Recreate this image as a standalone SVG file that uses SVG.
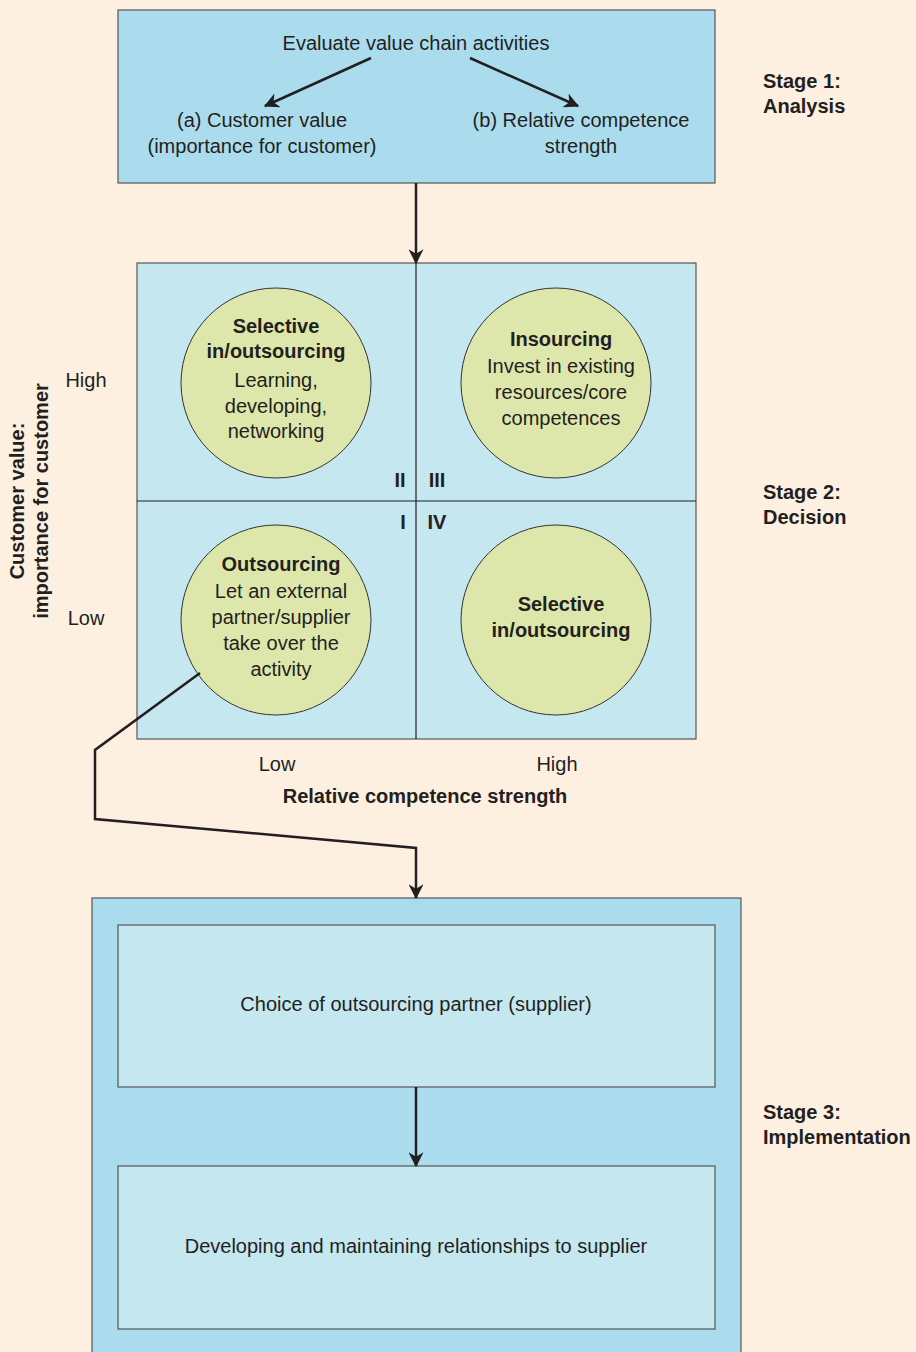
<svg xmlns="http://www.w3.org/2000/svg" width="916" height="1352" viewBox="0 0 916 1352">
  <defs>
    <marker id="arrow" viewBox="0 0 12 12" refX="11" refY="6" markerWidth="6" markerHeight="6" markerUnits="strokeWidth" orient="auto">
      <path d="M0,0 L12,6 L0,12 L3.5,6 Z" fill="#231f20"/>
    </marker>
    <style>
      text { font-family: "Liberation Sans", Arial, sans-serif; font-size: 20px; fill: #231f20; }
      .c { text-anchor: middle; }
      .b { font-weight: bold; }
      .box { fill: #abdcee; stroke: #555; stroke-width: 1.2; }
      .quad { fill: #c5e7f0; stroke: #555; stroke-width: 1.2; }
      .circ { fill: #dde7ab; stroke: #333; stroke-width: 1; }
      .conn { fill: none; stroke: #231f20; stroke-width: 2.5; }
      .grid { stroke: #231f20; stroke-width: 1.2; }
    </style>
  </defs>

  <rect width="916" height="1352" fill="#fdf0e1"/>

  <!-- Stage 1: analysis -->
  <g id="stage1">
    <rect class="box" x="118" y="10" width="597" height="173"/>
    <text class="c" x="416" y="50">Evaluate value chain activities</text>
    <text class="c" x="262" y="127">(a) Customer value</text>
    <text class="c" x="262" y="153">(importance for customer)</text>
    <text class="c" x="581" y="127">(b) Relative competence</text>
    <text class="c" x="581" y="153">strength</text>
  </g>
  <g id="stage1-label">
    <text class="b" x="763" y="88">Stage 1:</text>
    <text class="b" x="763" y="113">Analysis</text>
  </g>

  <!-- Stage 2: decision matrix -->
  <g id="matrix">
    <rect class="quad" x="137" y="263" width="559" height="476"/>
    <line class="grid" x1="416" y1="263" x2="416" y2="739"/>
    <line class="grid" x1="137" y1="501" x2="696" y2="501"/>
    <text class="b c" x="400" y="487">II</text>
    <text class="b c" x="437" y="487">III</text>
    <text class="b c" x="403" y="529">I</text>
    <text class="b c" x="437" y="529">IV</text>
  </g>

  <g id="q2-selective">
    <circle class="circ" cx="276" cy="383" r="95"/>
    <text class="b c" x="276" y="333">Selective</text>
    <text class="b c" x="276" y="358">in/outsourcing</text>
    <text class="c" x="276" y="387">Learning,</text>
    <text class="c" x="276" y="413">developing,</text>
    <text class="c" x="276" y="438">networking</text>
  </g>

  <g id="q3-insourcing">
    <circle class="circ" cx="556" cy="383" r="95"/>
    <text class="b c" x="561" y="346">Insourcing</text>
    <text class="c" x="561" y="373">Invest in existing</text>
    <text class="c" x="561" y="399">resources/core</text>
    <text class="c" x="561" y="425">competences</text>
  </g>

  <g id="q1-outsourcing">
    <circle class="circ" cx="276" cy="620" r="95"/>
    <text class="b c" x="281" y="571">Outsourcing</text>
    <text class="c" x="281" y="598">Let an external</text>
    <text class="c" x="281" y="624">partner/supplier</text>
    <text class="c" x="281" y="650">take over the</text>
    <text class="c" x="281" y="676">activity</text>
  </g>

  <g id="q4-selective">
    <circle class="circ" cx="556" cy="620" r="95"/>
    <text class="b c" x="561" y="611">Selective</text>
    <text class="b c" x="561" y="637">in/outsourcing</text>
  </g>

  <g id="axes">
    <text class="c" x="86" y="387">High</text>
    <text class="c" x="86" y="625">Low</text>
    <text class="b c" transform="translate(24,501) rotate(-90)">Customer value:</text>
    <text class="b c" transform="translate(48,501) rotate(-90)">importance for customer</text>
    <text class="c" x="277" y="771">Low</text>
    <text class="c" x="557" y="771">High</text>
    <text class="b c" x="425" y="803">Relative competence strength</text>
  </g>
  <g id="stage2-label">
    <text class="b" x="763" y="499">Stage 2:</text>
    <text class="b" x="763" y="524">Decision</text>
  </g>

  <!-- Stage 3: implementation -->
  <g id="stage3">
    <rect class="box" x="92" y="898" width="649" height="460"/>
  </g>
  <g id="partner-choice">
    <rect class="quad" x="118" y="925" width="597" height="162"/>
    <text class="c" x="416" y="1011">Choice of outsourcing partner (supplier)</text>
  </g>
  <g id="relationships">
    <rect class="quad" x="118" y="1166" width="597" height="163"/>
    <text class="c" x="416" y="1253">Developing and maintaining relationships to supplier</text>
  </g>
  <g id="stage3-label">
    <text class="b" x="763" y="1119">Stage 3:</text>
    <text class="b" x="763" y="1144">Implementation</text>
  </g>

  <!-- Connectors -->
  <g id="connectors">
    <line class="conn" x1="371" y1="58" x2="265" y2="106" marker-end="url(#arrow)"/>
    <line class="conn" x1="470" y1="58" x2="578" y2="106" marker-end="url(#arrow)"/>
    <line class="conn" x1="416" y1="183" x2="416" y2="263" marker-end="url(#arrow)"/>
    <polyline class="conn" points="200,673 95,750 95,819 416,848 416,898" marker-end="url(#arrow)"/>
    <line class="conn" x1="416" y1="1087" x2="416" y2="1166" marker-end="url(#arrow)"/>
  </g>
</svg>
